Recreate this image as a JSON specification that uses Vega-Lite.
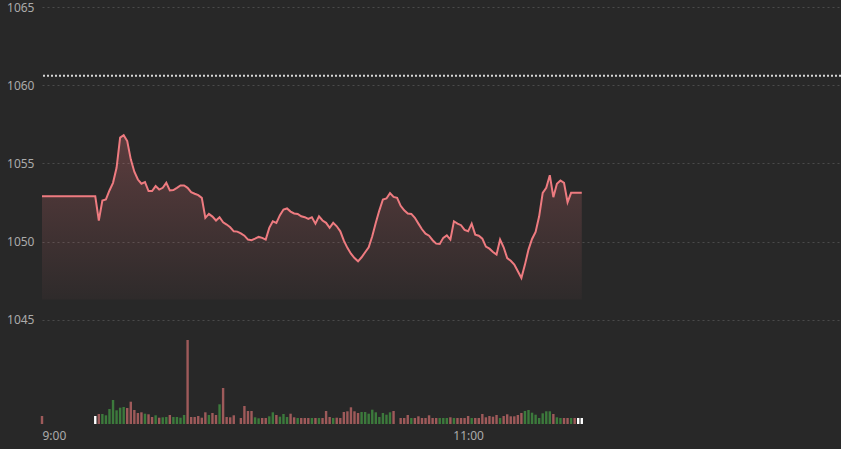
{
  "$schema": "https://vega.github.io/schema/vega-lite/v6.json",
  "width": 799,
  "height": 417,
  "autosize": {"type": "none"},
  "padding": {"left": 42, "top": 7, "right": 0, "bottom": 25},
  "background": "#282828",
  "config": {
    "view": {"stroke": null},
    "axis": {"labelFont": "Noto Sans", "labelFontSize": 12, "labelColor": "#ababab", "domain": false, "ticks": false, "title": null}
  },
  "data": {
    "values": [
      {"t":0,"p":1052.9,"v":80,"s":"d"},
      {"t":15,"p":1052.9,"v":80,"s":"n"},
      {"t":16,"p":1051.35,"v":100,"s":"d"},
      {"t":17,"p":1052.63,"v":100,"s":"u"},
      {"t":18,"p":1052.7,"v":87,"s":"u"},
      {"t":19,"p":1053.27,"v":150,"s":"u"},
      {"t":20,"p":1053.76,"v":240,"s":"u"},
      {"t":21,"p":1054.72,"v":137,"s":"u"},
      {"t":22,"p":1056.65,"v":163,"s":"u"},
      {"t":23,"p":1056.8,"v":170,"s":"u"},
      {"t":24,"p":1056.43,"v":160,"s":"d"},
      {"t":25,"p":1055.26,"v":223,"s":"d"},
      {"t":26,"p":1054.47,"v":140,"s":"d"},
      {"t":27,"p":1053.97,"v":110,"s":"d"},
      {"t":28,"p":1053.7,"v":117,"s":"d"},
      {"t":29,"p":1053.8,"v":103,"s":"u"},
      {"t":30,"p":1053.23,"v":97,"s":"d"},
      {"t":31,"p":1053.23,"v":70,"s":"d"},
      {"t":32,"p":1053.55,"v":87,"s":"u"},
      {"t":33,"p":1053.33,"v":63,"s":"d"},
      {"t":34,"p":1053.44,"v":67,"s":"u"},
      {"t":35,"p":1053.76,"v":70,"s":"u"},
      {"t":36,"p":1053.27,"v":90,"s":"d"},
      {"t":37,"p":1053.3,"v":70,"s":"u"},
      {"t":38,"p":1053.44,"v":70,"s":"u"},
      {"t":39,"p":1053.59,"v":63,"s":"u"},
      {"t":40,"p":1053.59,"v":90,"s":"u"},
      {"t":41,"p":1053.44,"v":840,"s":"d"},
      {"t":42,"p":1053.16,"v":70,"s":"d"},
      {"t":43,"p":1053.06,"v":70,"s":"d"},
      {"t":44,"p":1052.97,"v":80,"s":"d"},
      {"t":45,"p":1052.8,"v":63,"s":"d"},
      {"t":46,"p":1051.52,"v":117,"s":"d"},
      {"t":47,"p":1051.77,"v":90,"s":"u"},
      {"t":48,"p":1051.6,"v":110,"s":"d"},
      {"t":49,"p":1051.35,"v":90,"s":"d"},
      {"t":50,"p":1051.56,"v":197,"s":"u"},
      {"t":51,"p":1051.24,"v":360,"s":"d"},
      {"t":52,"p":1051.09,"v":70,"s":"d"},
      {"t":53,"p":1050.92,"v":67,"s":"d"},
      {"t":54,"p":1050.66,"v":87,"s":"d"},
      {"t":55,"p":1050.64,"v":0,"s":"d"},
      {"t":56,"p":1050.53,"v":60,"s":"d"},
      {"t":57,"p":1050.38,"v":180,"s":"d"},
      {"t":58,"p":1050.13,"v":130,"s":"d"},
      {"t":59,"p":1050.09,"v":130,"s":"d"},
      {"t":60,"p":1050.19,"v":67,"s":"u"},
      {"t":61,"p":1050.3,"v":57,"s":"u"},
      {"t":62,"p":1050.24,"v":60,"s":"d"},
      {"t":63,"p":1050.13,"v":60,"s":"d"},
      {"t":64,"p":1050.88,"v":77,"s":"u"},
      {"t":65,"p":1051.3,"v":117,"s":"u"},
      {"t":66,"p":1051.2,"v":90,"s":"d"},
      {"t":67,"p":1051.69,"v":73,"s":"u"},
      {"t":68,"p":1052.05,"v":100,"s":"u"},
      {"t":69,"p":1052.12,"v":70,"s":"u"},
      {"t":70,"p":1051.92,"v":103,"s":"d"},
      {"t":71,"p":1051.8,"v":67,"s":"d"},
      {"t":72,"p":1051.77,"v":60,"s":"u"},
      {"t":73,"p":1051.62,"v":60,"s":"d"},
      {"t":74,"p":1051.56,"v":60,"s":"d"},
      {"t":75,"p":1051.45,"v":60,"s":"d"},
      {"t":76,"p":1051.56,"v":60,"s":"u"},
      {"t":77,"p":1051.15,"v":60,"s":"d"},
      {"t":78,"p":1051.62,"v":60,"s":"u"},
      {"t":79,"p":1051.35,"v":60,"s":"d"},
      {"t":80,"p":1051.2,"v":130,"s":"d"},
      {"t":81,"p":1050.88,"v":70,"s":"d"},
      {"t":82,"p":1051.2,"v":60,"s":"u"},
      {"t":83,"p":1050.98,"v":63,"s":"d"},
      {"t":84,"p":1050.66,"v":60,"s":"d"},
      {"t":85,"p":1050.06,"v":120,"s":"d"},
      {"t":86,"p":1049.6,"v":127,"s":"d"},
      {"t":87,"p":1049.23,"v":167,"s":"d"},
      {"t":88,"p":1048.95,"v":127,"s":"d"},
      {"t":89,"p":1048.74,"v":110,"s":"d"},
      {"t":90,"p":1049.0,"v":120,"s":"u"},
      {"t":91,"p":1049.32,"v":120,"s":"u"},
      {"t":92,"p":1049.64,"v":103,"s":"u"},
      {"t":93,"p":1050.34,"v":143,"s":"u"},
      {"t":94,"p":1051.2,"v":117,"s":"u"},
      {"t":95,"p":1052.0,"v":70,"s":"u"},
      {"t":96,"p":1052.69,"v":110,"s":"u"},
      {"t":97,"p":1052.76,"v":93,"s":"u"},
      {"t":98,"p":1053.1,"v":117,"s":"u"},
      {"t":99,"p":1052.86,"v":130,"s":"d"},
      {"t":100,"p":1052.8,"v":0,"s":"d"},
      {"t":101,"p":1052.29,"v":60,"s":"d"},
      {"t":102,"p":1052.0,"v":60,"s":"d"},
      {"t":103,"p":1051.8,"v":90,"s":"d"},
      {"t":104,"p":1051.77,"v":60,"s":"u"},
      {"t":105,"p":1051.52,"v":60,"s":"d"},
      {"t":106,"p":1051.15,"v":77,"s":"d"},
      {"t":107,"p":1050.79,"v":60,"s":"d"},
      {"t":108,"p":1050.51,"v":60,"s":"d"},
      {"t":109,"p":1050.38,"v":87,"s":"d"},
      {"t":110,"p":1050.09,"v":60,"s":"d"},
      {"t":111,"p":1049.87,"v":60,"s":"d"},
      {"t":112,"p":1049.85,"v":60,"s":"u"},
      {"t":113,"p":1050.24,"v":60,"s":"u"},
      {"t":114,"p":1050.4,"v":60,"s":"u"},
      {"t":115,"p":1050.13,"v":67,"s":"d"},
      {"t":116,"p":1051.3,"v":60,"s":"u"},
      {"t":117,"p":1051.15,"v":60,"s":"d"},
      {"t":118,"p":1051.05,"v":60,"s":"d"},
      {"t":119,"p":1050.75,"v":60,"s":"d"},
      {"t":120,"p":1050.66,"v":80,"s":"d"},
      {"t":121,"p":1051.15,"v":60,"s":"u"},
      {"t":122,"p":1050.45,"v":60,"s":"d"},
      {"t":123,"p":1050.38,"v":60,"s":"d"},
      {"t":124,"p":1050.19,"v":100,"s":"d"},
      {"t":125,"p":1049.68,"v":67,"s":"d"},
      {"t":126,"p":1049.55,"v":80,"s":"d"},
      {"t":127,"p":1049.34,"v":73,"s":"d"},
      {"t":128,"p":1049.17,"v":90,"s":"d"},
      {"t":129,"p":1050.13,"v":60,"s":"u"},
      {"t":130,"p":1049.64,"v":80,"s":"d"},
      {"t":131,"p":1048.95,"v":97,"s":"d"},
      {"t":132,"p":1048.78,"v":77,"s":"d"},
      {"t":133,"p":1048.53,"v":77,"s":"d"},
      {"t":134,"p":1048.1,"v":90,"s":"d"},
      {"t":135,"p":1047.67,"v":110,"s":"d"},
      {"t":136,"p":1048.53,"v":130,"s":"u"},
      {"t":137,"p":1049.49,"v":140,"s":"u"},
      {"t":138,"p":1050.17,"v":113,"s":"u"},
      {"t":139,"p":1050.62,"v":93,"s":"u"},
      {"t":140,"p":1051.62,"v":60,"s":"u"},
      {"t":141,"p":1053.12,"v":107,"s":"u"},
      {"t":142,"p":1053.44,"v":127,"s":"u"},
      {"t":143,"p":1054.25,"v":127,"s":"u"},
      {"t":144,"p":1052.84,"v":100,"s":"d"},
      {"t":145,"p":1053.7,"v":67,"s":"u"},
      {"t":146,"p":1053.91,"v":60,"s":"u"},
      {"t":147,"p":1053.76,"v":60,"s":"d"},
      {"t":148,"p":1052.52,"v":60,"s":"d"},
      {"t":149,"p":1053.12,"v":60,"s":"u"},
      {"t":150,"p":1053.12,"v":60,"s":"d"},
      {"t":151,"p":1053.12,"v":60,"s":"n"},
      {"t":152,"p":1053.12,"v":60,"s":"n"}
    ]
  },
  "layer": [
    {
      "layer": [
        {
          "mark": {
            "type": "area",
            "color": {
              "gradient": "linear", "x1": 0, "y1": 0, "x2": 0, "y2": 1,
              "stops": [
                {"offset": 0, "color": "rgba(240,120,124,0.26)"},
                {"offset": 1, "color": "rgba(240,120,124,0.03)"}
              ]
            }
          },
          "encoding": {
            "x": {"field": "t", "type": "quantitative", "scale": {"domain": [0, 225], "nice": false, "zero": false, "padding": 0},
                  "axis": {"values": [0, 120], "grid": false, "labelPadding": 6, "labelExpr": "floor(datum.value/60)+9 + ':' + (datum.value%60<10?'0':'') + (datum.value%60)"}},
            "y": {"field": "p", "type": "quantitative", "scale": {"domain": [1038.34, 1065], "nice": false, "zero": false, "padding": 0},
                  "axis": {"values": [1045, 1050, 1055, 1060, 1065], "format": "d", "grid": true, "gridColor": "#4a4a4a", "gridDash": [2, 3], "gridWidth": 1, "labelPadding": 8}},
            "y2": {"datum": 1046.3}
          }
        },
        {
          "mark": {"type": "line", "color": "#ee7b80", "strokeWidth": 2},
          "encoding": {
            "x": {"field": "t", "type": "quantitative", "scale": {"domain": [0, 225], "nice": false, "zero": false, "padding": 0}},
            "y": {"field": "p", "type": "quantitative", "scale": {"domain": [1038.34, 1065], "nice": false, "zero": false, "padding": 0}}
          }
        },
        {
          "data": {"values": [{"ref": 1060.6}]},
          "mark": {"type": "rule", "color": "#d6d6d6", "strokeWidth": 2, "strokeDash": [2, 2]},
          "encoding": {
            "y": {"field": "ref", "type": "quantitative", "scale": {"domain": [1038.34, 1065], "nice": false, "zero": false, "padding": 0}}
          }
        }
      ]
    },
    {
      "mark": {"type": "bar", "width": 2.4, "orient": "vertical"},
      "encoding": {
        "x": {"field": "t", "type": "quantitative", "scale": {"domain": [0, 225], "nice": false, "zero": false, "padding": 0}},
        "y": {"field": "v", "type": "quantitative", "scale": {"domain": [0, 4170], "nice": false, "padding": 0}, "axis": null},
        "color": {"field": "s", "type": "nominal", "scale": {"domain": ["d", "u", "n"], "range": ["#9e5a5a", "#3c7a3c", "#ffffff"]}, "legend": null}
      }
    }
  ],
  "resolve": {"scale": {"y": "independent"}}
}
